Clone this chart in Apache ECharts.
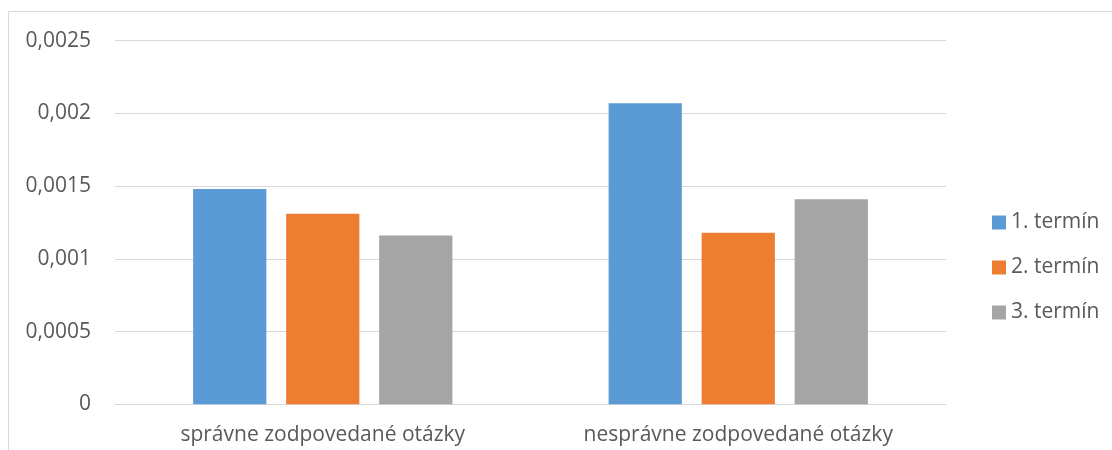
<!DOCTYPE html>
<html>
<head>
<meta charset="utf-8">
<script src="https://cdn.jsdelivr.net/npm/echarts@6/dist/echarts.min.js"></script>
<style>
  html, body { margin: 0; padding: 0; background: #ffffff; }
  #chart { width: 1112px; height: 450px; }
</style>
</head>
<body>
<div id="chart"></div>
<script>
// Categories and per-term values
const categories = ['správne zodpovedané otázky', 'nesprávne zodpovedané otázky'];
const seriesNames = ['1. termín', '2. termín', '3. termín'];
const term1 = [0.00148, 0.00207];
const term2 = [0.00131, 0.00118];
const term3 = [0.00116, 0.00141];
const colors = ['#5b9bd5', '#ed7d31', '#a5a5a5'];

const FONT = '"Open Sans", sans-serif';
const TEXT = '#595959';

const chart = echarts.init(document.getElementById('chart'), null, { renderer: 'canvas' });

const values = [term1, term2, term3];

chart.setOption({
  animation: false,
  backgroundColor: '#ffffff',
  color: colors,
  graphic: [{
    type: 'rect',
    shape: { x: 8.5, y: 11.5, width: 1200, height: 600 },
    style: { fill: 'none', stroke: '#d9d9d9', lineWidth: 1 },
    silent: true
  }],
  grid: { left: 115, right: 166, top: 40.7, bottom: 45.7, containLabel: false },
  legend: {
    orient: 'vertical',
    left: 987,
    top: 207,
    itemWidth: 14,
    itemHeight: 14,
    itemGap: 24,
    icon: 'rect',
    textStyle: { fontFamily: FONT, fontSize: 21, color: TEXT, padding: [0, 0, 0, 0] },
    data: seriesNames
  },
  xAxis: {
    type: 'category',
    data: categories,
    axisLine: { lineStyle: { color: '#d9d9d9', width: 1 } },
    axisTick: { show: false },
    axisLabel: { fontFamily: FONT, fontSize: 21, color: TEXT, margin: 20 }
  },
  yAxis: {
    type: 'value',
    min: 0,
    max: 0.0025,
    interval: 0.0005,
    axisLine: { show: false },
    axisTick: { show: false },
    splitLine: { lineStyle: { color: '#d9d9d9', width: 1 } },
    axisLabel: {
      fontFamily: FONT, fontSize: 21, color: TEXT, margin: 24,
      formatter: v => String(+v.toFixed(4)).replace('.', ',')
    }
  },
  series: seriesNames.map((name, i) => ({
    name,
    type: 'bar',
    data: values[i],
    barGap: '27%',
    barCategoryGap: '37.6%',
    itemStyle: { color: colors[i] }
  }))
});
</script>
</body>
</html>
